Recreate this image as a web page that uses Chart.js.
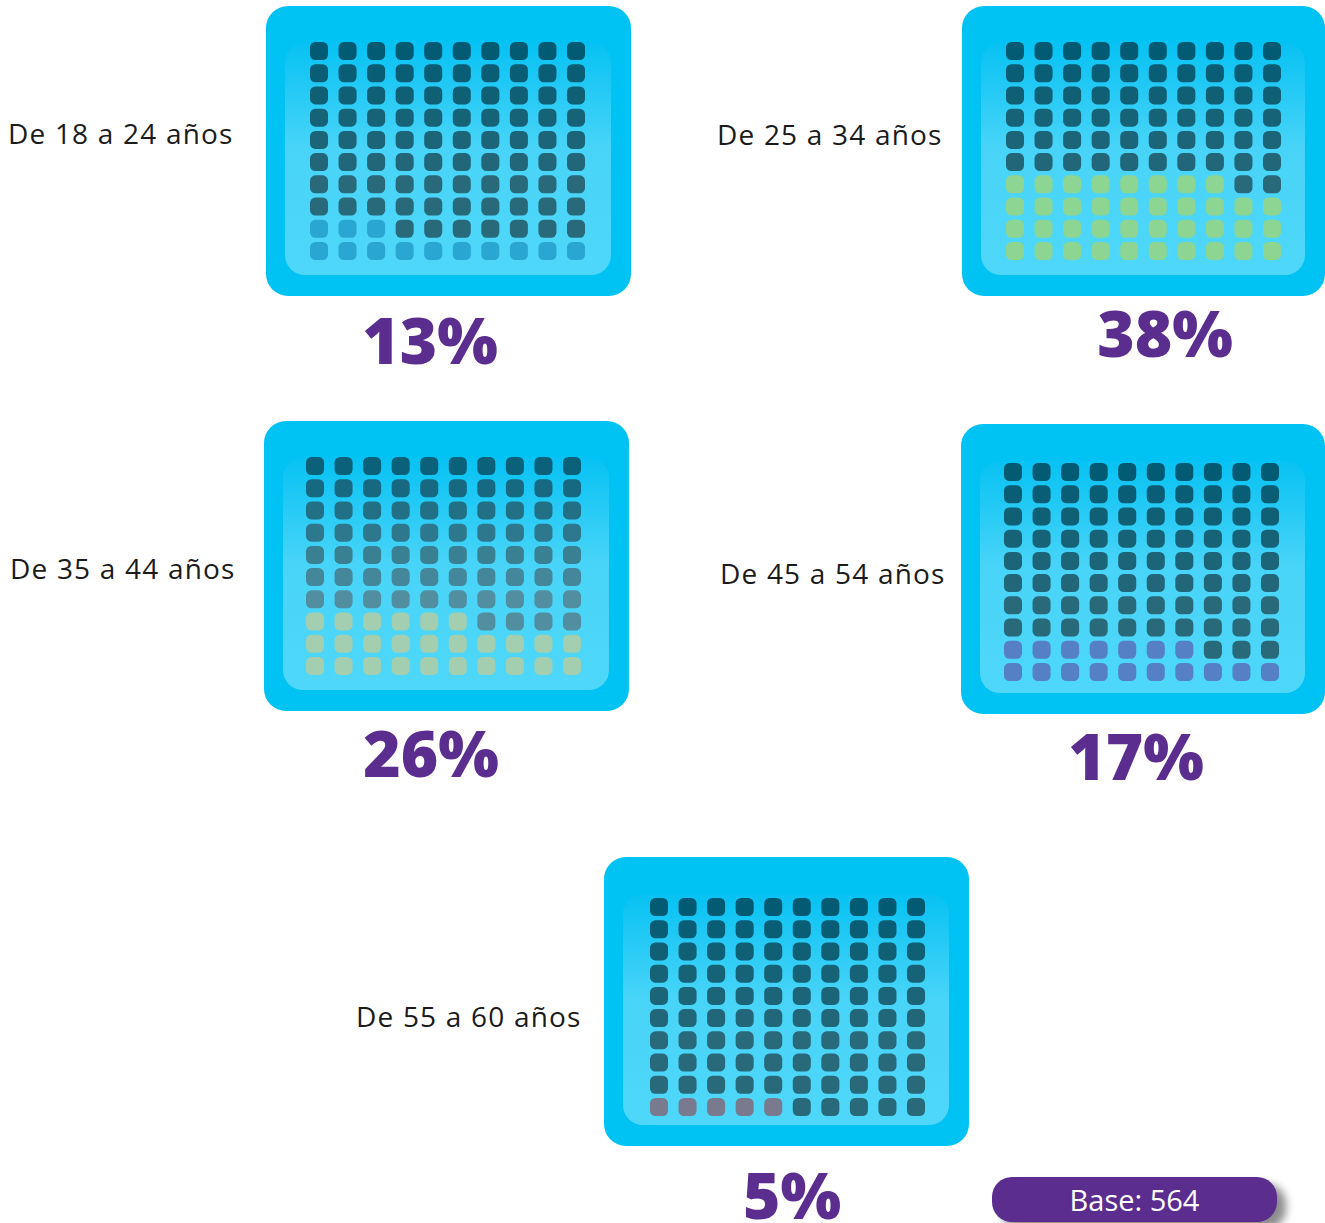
<!DOCTYPE html>
<html lang="es">
<head>
<meta charset="utf-8">
<title>Distribución por edad</title>
<script src="https://cdn.jsdelivr.net/npm/chart.js@4/dist/chart.umd.min.js"></script>
<style>
  html, body { margin: 0; padding: 0; background: #ffffff; }
  body { width: 1325px; height: 1223px; position: relative; overflow: hidden;
         font-family: "Open Sans", "Noto Sans", sans-serif; }
  canvas.panel { position: absolute; }
  .label { position: absolute; font-size: 28px; color: #1b1b1b; white-space: nowrap;
           line-height: 1; transform: translateY(-50%); letter-spacing: 1.2px; }
  .pct { position: absolute; font-size: 64px; font-weight: 800; color: #5b2d8e; white-space: nowrap;
         line-height: 1; transform: translate(-50%, -50%); }
  .base { position: absolute; left: 992px; top: 1177px; width: 285px; height: 45px; border-radius: 20px;
          background: #5b2d8e; color: #ffffff; font-size: 29px; line-height: 45px; text-align: center;
          box-shadow: 9px 7px 9px rgba(0,0,0,0.45); }
</style>
</head>
<body>
<script>
// Age groups and the share of respondents in each (waffle of 100 cells)
const categories = ["De 18 a 24 años", "De 25 a 34 años", "De 35 a 44 años", "De 45 a 54 años", "De 55 a 60 años"];
const percentages = [13, 38, 26, 17, 5];
const baseCount = 564;

// Cell colours: highlighted share and the dark gradient of the remaining cells
const highlightColors = ["#29a6d2", "#8dd592", "#a3ceb0", "#5580c5", "#7a7a8e"];
const darkTop = ["#035a73", "#035a73", "#0a6179", "#035a73", "#035a73"];
const darkBottom = ["#28697a", "#28697a", "#518fa0", "#28697a", "#28697a"];

// Page layout: tablet rectangle, centres of first/last cell, label and percentage anchors
const layout = [
  { left: 266, top: 6,   w: 365, h: 290, cx0: 319, cx1: 576,  cy0: 51,  cy1: 251,  lx: 8,   ly: 133,  px: 430,  py: 340 },
  { left: 962, top: 6,   w: 363, h: 290, cx0: 1015, cx1: 1272, cy0: 51, cy1: 251,  lx: 717, ly: 134,  px: 1165, py: 333 },
  { left: 264, top: 421, w: 365, h: 290, cx0: 315, cx1: 572,  cy0: 466, cy1: 666,  lx: 10,  ly: 568,  px: 431,  py: 753 },
  { left: 961, top: 424, w: 364, h: 290, cx0: 1013, cx1: 1270, cy0: 472, cy1: 672, lx: 720, ly: 573,  px: 1136, py: 756 },
  { left: 604, top: 857, w: 365, h: 289, cx0: 659, cx1: 916,  cy0: 907, cy1: 1107, lx: 356, ly: 1016, px: 792,  py: 1195 }
];

function hexToRgb(h) {
  const n = parseInt(h.slice(1), 16);
  return [(n >> 16) & 255, (n >> 8) & 255, n & 255];
}
function mix(a, b, t) {
  const A = hexToRgb(a), B = hexToRgb(b);
  const c = A.map((v, i) => Math.round(v + (B[i] - v) * t));
  return `rgb(${c[0]},${c[1]},${c[2]})`;
}
function roundRectPath(ctx, x, y, w, h, r) {
  ctx.beginPath();
  ctx.moveTo(x + r, y);
  ctx.lineTo(x + w - r, y);
  ctx.arcTo(x + w, y, x + w, y + r, r);
  ctx.lineTo(x + w, y + h - r);
  ctx.arcTo(x + w, y + h, x + w - r, y + h, r);
  ctx.lineTo(x + r, y + h);
  ctx.arcTo(x, y + h, x, y + h - r, r);
  ctx.lineTo(x, y + r);
  ctx.arcTo(x, y, x + r, y, r);
  ctx.closePath();
}

// Draws the rounded blue tablet behind the cells
const tabletPlugin = {
  id: 'tablet',
  beforeDraw(chart) {
    const { ctx, width, height } = chart;
    ctx.save();
    roundRectPath(ctx, 0, 0, width, height, 22);
    ctx.fillStyle = '#00c3f4';
    ctx.fill();
    const ix = 19, iy = 37, iw = width - 39, ih = height - 58;
    const g = ctx.createLinearGradient(0, iy, 0, iy + ih);
    g.addColorStop(0, '#07c2f3');
    g.addColorStop(0.45, '#48d4f8');
    g.addColorStop(1, '#4ed7f9');
    roundRectPath(ctx, ix, iy, iw, ih, 20);
    ctx.fillStyle = g;
    ctx.fill();
    ctx.restore();
  }
};

function addText(cls, text, x, y) {
  const d = document.createElement('div');
  d.className = cls;
  d.textContent = text;
  d.style.left = x + 'px';
  d.style.top = y + 'px';
  document.body.appendChild(d);
}

categories.forEach((cat, k) => {
  const L = layout[k];
  const pct = percentages[k];

  // 100 cells: filled from the bottom row, left to right, upwards
  const points = [], colors = [];
  for (let i = 0; i < 100; i++) {
    const rowFromBottom = Math.floor(i / 10);
    const col = i % 10;
    points.push({ x: col + 1, y: rowFromBottom + 1 });
    const rowFromTop = 9 - rowFromBottom;
    colors.push(i < pct ? highlightColors[k]
                        : mix(darkTop[k], darkBottom[k], Math.min(rowFromTop / 6, 1)));
  }

  const canvas = document.createElement('canvas');
  canvas.className = 'panel';
  canvas.width = L.w;
  canvas.height = L.h;
  canvas.style.left = L.left + 'px';
  canvas.style.top = L.top + 'px';
  document.body.appendChild(canvas);

  new Chart(canvas, {
    type: 'scatter',
    data: {
      datasets: [{
        label: cat,
        data: points,
        pointStyle: 'rectRounded',
        pointRadius: 10.5,
        pointHoverRadius: 10.5,
        backgroundColor: colors,
        borderWidth: 0,
        clip: false
      }]
    },
    options: {
      responsive: false,
      animation: false,
      devicePixelRatio: 1,
      events: [],
      layout: {
        padding: {
          left: L.cx0 - L.left,
          right: L.left + L.w - L.cx1,
          top: L.cy0 - L.top,
          bottom: L.top + L.h - L.cy1
        }
      },
      scales: {
        x: { type: 'linear', display: false, min: 1, max: 10 },
        y: { type: 'linear', display: false, min: 1, max: 10 }
      },
      plugins: { legend: { display: false }, tooltip: { enabled: false } }
    },
    plugins: [tabletPlugin]
  });

  addText('label', cat, L.lx, L.ly);
  addText('pct', pct + '%', L.px, L.py);
});

const base = document.createElement('div');
base.className = 'base';
base.textContent = 'Base: ' + baseCount;
document.body.appendChild(base);
</script>
</body>
</html>
